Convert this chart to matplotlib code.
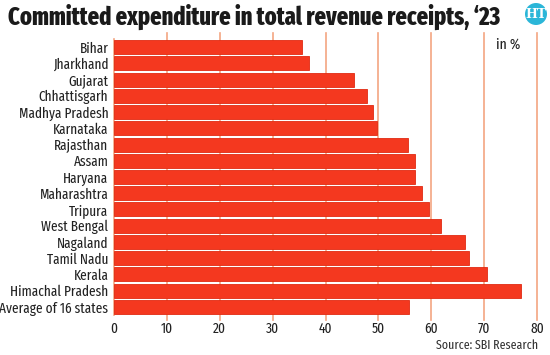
import matplotlib
matplotlib.use("Agg")
import matplotlib.pyplot as plt
from matplotlib.patches import Circle
from matplotlib import font_manager

states = ["Bihar", "Jharkhand", "Gujarat", "Chhattisgarh", "Madhya Pradesh",
          "Karnataka", "Rajasthan", "Assam", "Haryana", "Maharashtra", "Tripura",
          "West Bengal", "Nagaland", "Tamil Nadu", "Kerala", "Himachal Pradesh",
          "Average of 16 states"]
values = [35.6, 36.8, 45.3, 47.8, 48.9, 49.8, 55.6, 56.9, 56.9, 58.2, 59.6,
          61.8, 66.4, 67.2, 70.6, 77.0, 55.8]
xticks = [0, 10, 20, 30, 40, 50, 60, 70, 80]

names = {f.name for f in font_manager.fontManager.ttflist}


def pick(cands):
    for c in cands:
        if c in names:
            return c
    return "DejaVu Sans"


label_font = pick(["Fira Sans Extra Condensed", "Fira Sans Condensed", "Roboto Condensed",
                   "Asap Condensed", "PT Sans Narrow", "DejaVu Sans Condensed"])
title_font = pick(["Fira Sans Extra Condensed", "Fira Sans Condensed", "Roboto Condensed",
                   "Asap Condensed", "PT Sans Narrow"])
plt.rcParams["font.family"] = [label_font, "DejaVu Sans"]

W, H = 550, 355
fig = plt.figure(figsize=(5.5, 3.55), dpi=100)
fig.patch.set_facecolor("white")

left, right = 114 / W, 537 / W
top, bottom = 1 - 39 / H, 1 - 315 / H
ax = fig.add_axes([left, bottom, right - left, top - bottom])

y = list(range(len(states)))
ax.barh(y, values, height=0.86, color="#F4381F", edgecolor="#E02A12", linewidth=0.6, zorder=3)
ax.set_ylim(len(states) - 0.5, -0.5)
ax.set_xlim(0, 80)
ax.set_yticks(y)
ax.set_yticklabels(states, fontsize=10.4, color="#222222")
ax.set_xticks(xticks)
ax.set_xticklabels([str(t) for t in xticks], fontsize=10.5, color="#222222")
ax.tick_params(axis="y", length=0, pad=4)
ax.tick_params(axis="x", length=0, pad=5)
for s in ["top", "right", "bottom"]:
    ax.spines[s].set_visible(False)
ax.spines["left"].set_color("#F4A582")
ax.spines["left"].set_linewidth(1.2)

for t in xticks[1:]:
    ax.plot([t, t], [-0.9, len(states) - 0.2], color="#F4A582", linewidth=1.2,
            zorder=1, clip_on=False)

fig.text(8 / W, 1 - 17 / H, "Committed expenditure in total revenue receipts, \u201823",
         fontsize=17.5, fontweight=800, color="#1a1a1a", va="center", ha="left",
         family=[title_font, "DejaVu Sans"])
fig.text(508 / W, 1 - 45 / H, "in %", fontsize=10.8, color="#222222", va="center", ha="center")
fig.text(538 / W, 1 - 345 / H, "Source: SBI Research", fontsize=9.3, color="#333333",
         va="center", ha="right")

fig.patches.append(Circle((536, H - 14), 11, transform=None, facecolor="#2BB6D8", edgecolor="none"))
fig.text(536 / W, 1 - 14 / H, "HT", fontsize=9, fontweight="bold", color="white",
         family="DejaVu Serif", va="center", ha="center")

fig.savefig("out.png", dpi=100)
